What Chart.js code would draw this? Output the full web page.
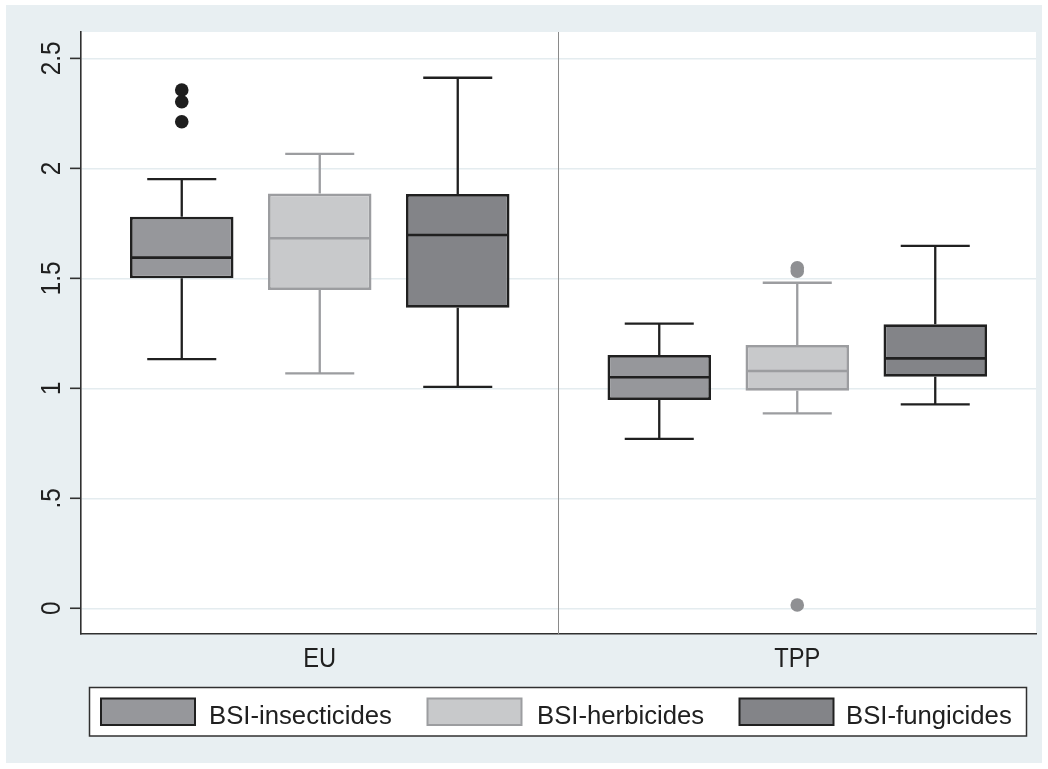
<!DOCTYPE html>
<html>
<head>
<meta charset="utf-8">
<script src="https://cdn.jsdelivr.net/npm/chart.js@4/dist/chart.umd.min.js"></script>
<style>
  html, body { margin: 0; padding: 0; background: #ffffff; }
  #wrap { width: 1048px; height: 769px; }
</style>
</head>
<body>
<div id="wrap"><canvas id="c" width="1048" height="769"></canvas></div>
<script>
// Groups on the x axis and the three box series
const categories = ['EU', 'TPP'];
const seriesNames = ['BSI-insecticides', 'BSI-herbicides', 'BSI-fungicides'];

// Box statistics, one row per series, one column per group [EU, TPP]
const whiskerLow  = [[1.133, 0.770], [1.068, 0.886], [1.007, 0.927]];
const quartile1   = [[1.500, 0.947], [1.447, 0.989], [1.366, 1.053]];
const median      = [[1.594, 1.050], [1.682, 1.079], [1.697, 1.136]];
const quartile3   = [[1.780, 1.151], [1.886, 1.197], [1.883, 1.291]];
const whiskerHigh = [[1.951, 1.294], [2.066, 1.480], [2.412, 1.648]];
const outliers    = [
  [[2.356, 2.303, 2.212], []],
  [[], [1.548, 1.533, 0.015]],
  [[], []]
];

// Y axis ticks
const yTickValues = [0, 0.5, 1, 1.5, 2, 2.5];
const yTickLabels = ['0', '.5', '1', '1.5', '2', '2.5'];

// Series styling
const fillColors = ['#96979b', '#c8c9cb', '#838488'];
const lineColors = ['#202020', '#9c9da0', '#202020'];

const FONT = '"Liberation Sans", Arial, Helvetica, sans-serif';
const TEXT = '#202020';

// Draws text narrowed along its own direction (Helvetica-like compact look)
function condensedText(ctx, str, x, y, size, squeeze, align, angle) {
  ctx.save();
  ctx.translate(x, y);
  if (angle) ctx.rotate(angle);
  ctx.scale(squeeze, 1);
  ctx.font = size + 'px ' + FONT;
  ctx.textAlign = align;
  ctx.textBaseline = 'alphabetic';
  ctx.fillText(str, 0, 0);
  ctx.restore();
}

const boxPlotPlugin = {
  id: 'boxPlotExtras',
  beforeDraw(chart) {
    const ctx = chart.ctx;
    const a = chart.chartArea;
    ctx.save();
    ctx.fillStyle = '#ffffff';
    ctx.fillRect(0, 0, chart.width, chart.height);
    ctx.fillStyle = '#e8eff2';
    ctx.fillRect(6, 5, chart.width - 12, chart.height - 11);
    ctx.fillStyle = '#ffffff';
    ctx.fillRect(a.left, a.top, a.right - a.left, a.bottom - a.top);
    ctx.restore();
  },
  beforeDatasetsDraw(chart) {
    // divider between the two groups
    const ctx = chart.ctx;
    const a = chart.chartArea;
    const xs = chart.scales.x;
    const xm = Math.round((xs.getPixelForValue(0) + xs.getPixelForValue(1)) / 2) - 0.5;
    ctx.save();
    ctx.strokeStyle = '#8a8a8a';
    ctx.lineWidth = 1;
    ctx.beginPath();
    ctx.moveTo(xm, a.top);
    ctx.lineTo(xm, a.bottom);
    ctx.stroke();
    ctx.restore();
  },
  afterDatasetsDraw(chart) {
    const ctx = chart.ctx;
    const ys = chart.scales.y;
    ctx.save();
    chart.data.datasets.forEach((ds, s) => {
      const meta = chart.getDatasetMeta(s);
      meta.data.forEach((el, c) => {
        const x = el.x;
        const w = el.width;
        const cap = w * 0.667;
        const pLow = ys.getPixelForValue(whiskerLow[s][c]);
        const pQ1 = ys.getPixelForValue(quartile1[s][c]);
        const pMed = ys.getPixelForValue(median[s][c]);
        const pQ3 = ys.getPixelForValue(quartile3[s][c]);
        const pHigh = ys.getPixelForValue(whiskerHigh[s][c]);
        ctx.strokeStyle = lineColors[s];
        ctx.lineWidth = 2.3;
        ctx.beginPath();
        // whiskers
        ctx.moveTo(x, pQ3); ctx.lineTo(x, pHigh);
        ctx.moveTo(x, pQ1); ctx.lineTo(x, pLow);
        // caps
        ctx.moveTo(x - cap / 2, pHigh); ctx.lineTo(x + cap / 2, pHigh);
        ctx.moveTo(x - cap / 2, pLow); ctx.lineTo(x + cap / 2, pLow);
        ctx.stroke();
        // median
        ctx.lineWidth = 2.6;
        ctx.beginPath();
        ctx.moveTo(x - w / 2 + 1, pMed); ctx.lineTo(x + w / 2 - 1, pMed);
        ctx.stroke();
        // outside values
        ctx.fillStyle = s === 1 ? '#8f9093' : '#1e1e1e';
        outliers[s][c].forEach(v => {
          ctx.beginPath();
          ctx.arc(x, ys.getPixelForValue(v), 6.8, 0, Math.PI * 2);
          ctx.fill();
        });
      });
    });
    ctx.restore();
  },
  afterDraw(chart) {
    const ctx = chart.ctx;
    const a = chart.chartArea;
    const ys = chart.scales.y;
    const xs = chart.scales.x;
    ctx.save();

    // y tick marks and rotated labels
    ctx.strokeStyle = '#303030';
    ctx.lineWidth = 1.6;
    ctx.fillStyle = TEXT;
    yTickValues.forEach((v, i) => {
      const py = ys.getPixelForValue(v);
      ctx.beginPath();
      ctx.moveTo(a.left - 11, py);
      ctx.lineTo(a.left, py);
      ctx.stroke();
      condensedText(ctx, yTickLabels[i], 60, py, 27, 0.9, 'center', -Math.PI / 2);
    });

    // group labels
    categories.forEach((cat, i) => {
      condensedText(ctx, cat, xs.getPixelForValue(i), 666.5, 27.5, 0.86, 'center', 0);
    });

    // legend
    ctx.fillStyle = '#ffffff';
    ctx.fillRect(89.5, 687.5, 937, 48.5);
    ctx.strokeStyle = '#303030';
    ctx.lineWidth = 1.5;
    ctx.strokeRect(89.5, 687.5, 937, 48.5);
    const swatchX = [101, 427.5, 739.5];
    const textX = [209, 537, 846];
    chart.data.datasets.forEach((ds, s) => {
      ctx.fillStyle = fillColors[s];
      ctx.fillRect(swatchX[s], 698.5, 94, 26.5);
      ctx.strokeStyle = lineColors[s];
      ctx.lineWidth = 2;
      ctx.strokeRect(swatchX[s], 698.5, 94, 26.5);
      ctx.fillStyle = TEXT;
      condensedText(ctx, ds.label, textX[s], 723.5, 26.5, 0.97, 'left', 0);
    });
    ctx.restore();
  }
};

new Chart(document.getElementById('c'), {
  type: 'bar',
  data: {
    labels: categories,
    datasets: seriesNames.map((name, s) => ({
      label: name,
      data: categories.map((_, c) => [quartile1[s][c], quartile3[s][c]]),
      backgroundColor: fillColors[s],
      borderColor: lineColors[s],
      borderWidth: 2.7,
      borderSkipped: false,
      categoryPercentage: 0.867,
      barPercentage: 0.75
    }))
  },
  options: {
    responsive: false,
    animation: false,
    devicePixelRatio: 1,
    layout: { padding: { left: 81, top: 32, right: 12, bottom: 135 } },
    plugins: {
      legend: { display: false },
      tooltip: { enabled: false },
      title: { display: false }
    },
    scales: {
      x: {
        type: 'category',
        offset: true,
        grid: { display: false, drawTicks: false },
        ticks: { display: false },
        border: { display: true, color: '#303030', width: 1.6 }
      },
      y: {
        type: 'linear',
        min: -0.117,
        max: 2.62,
        afterBuildTicks(axis) {
          axis.ticks = yTickValues.map(v => ({ value: v }));
        },
        grid: { color: '#e4ecef', lineWidth: 1.5, drawTicks: false },
        ticks: { display: false },
        border: { display: true, color: '#303030', width: 1.6 }
      }
    }
  },
  plugins: [boxPlotPlugin]
});
</script>
</body>
</html>
